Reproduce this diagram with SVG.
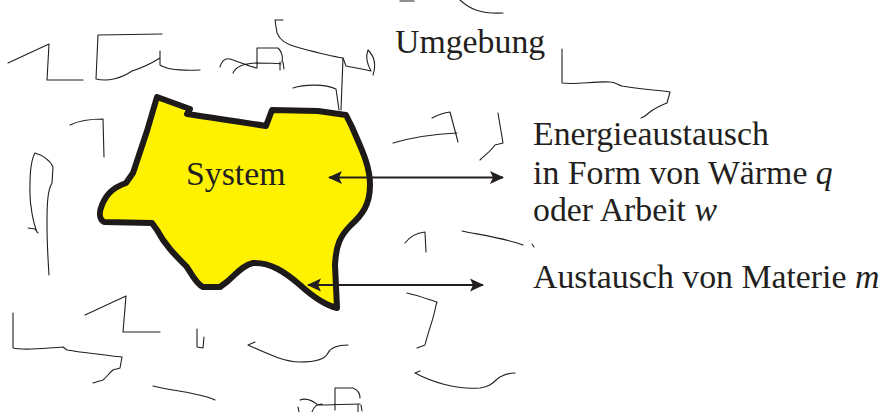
<svg xmlns="http://www.w3.org/2000/svg" width="885" height="412" viewBox="0 0 885 412">
  <style>
    .txt { font-family: "Liberation Serif", "Times New Roman", serif; font-size: 33.8px; fill: #231F20; }
    .it { font-style: italic; }
    .scribble { fill: none; stroke: #231F20; stroke-width: 1.1; stroke-linecap: round; stroke-linejoin: round; }
    .blob { fill: #FFF200; stroke: #1E1A1A; stroke-width: 6; stroke-linejoin: round; }
    .conn { fill: none; stroke: #231F20; stroke-width: 2; }
  </style>
  <defs>
    <marker id="head" viewBox="0 0 14 14" refX="13" refY="7" markerWidth="14" markerHeight="14" markerUnits="userSpaceOnUse" orient="auto-start-reverse">
      <path d="M0,0.5 L14,7 L0,13.5 L3,7 Z" fill="#231F20"/>
    </marker>
  </defs>

  <rect width="885" height="412" fill="#FFFFFF"/>

  <!-- surroundings: loose hand-drawn strokes -->
  <g id="umgebung-strokes" class="scribble">
    <path d="M8,63 L49,44 L47,80 L83,80"/>
    <path d="M162,34 L98,35 L96,79 C108,82 122,78 132,71 C145,67 152,63 160,58 L160,51 M160,58 L160,65 C166,69 180,71 200,70"/>
    <path d="M220,67 C222,60 226,58 230,59 C240,62 250,67 257,68 M233,73 C236,66 244,64 255,63 C265,63 275,63 281,64 M257,68 L257,48 L278,48 C282,52 283,57 282,62 M280,62 L280,70 M283,62 L284,69"/>
    <path d="M283,20 L275,20 L277,33 C280,40 285,44 300,48 C315,52 330,56 343,58 L346,66 C355,68 363,69 371,71 C366,62 366,55 368,50 C374,56 377,63 373,75"/>
    <path d="M343,58 L341,110"/>
    <path d="M293,88 C305,84 325,84 336,89 L339,110"/>
    <path d="M400,1 L414,1"/>
    <path d="M460,0 C470,9 480,14 503,13"/>
    <path d="M562,49 L562,83 C575,85 595,81 610,82 C615,82 618,85 622,86 C640,89 655,90 670,92 L667,103 C660,106 655,108 650,112 C646,115 645,117 641,118"/>
    <path d="M70,125 C78,121 90,119 103,119 L104,157"/>
    <path d="M37,232 C34,225 29,205 30,185 C30,170 31,160 35,153 C42,155 50,160 53,167 L52,183 C48,190 47,200 47,223 C47,245 48,260 49,275 M28,228 L35,229 L38,233"/>
    <path d="M432,118 C438,115 443,113 450,112 L458,142"/>
    <path d="M393,143 C410,138 435,134 457,133"/>
    <path d="M498,113 L503,143 L495,145 C490,152 485,155 480,160"/>
    <path d="M405,243 C410,236 417,233 425,232 L426,252"/>
    <path d="M462,231 C475,234 505,238 523,245"/>
    <path d="M13,313 L13,348 C25,351 45,348 63,347 L67,350 C85,353 105,355 122,357 L120,368 C118,369 115,369 113,370 C108,374 106,378 103,380 L93,383"/>
    <path d="M85,315 L126,296 L123,332 L160,332"/>
    <path d="M197,329 L197,347 L203,348 L204,337"/>
    <path d="M255,342 L248,345 C270,355 285,362 300,362 C315,362 325,360 328,353 C331,347 340,345 348,345"/>
    <path d="M153,386 C165,389 180,391 190,393 C200,395 210,397 215,400"/>
    <path d="M407,293 C420,296 430,300 437,302 L436,305 C434,318 428,332 425,345 L417,348"/>
    <path d="M420,371 L415,373 C430,381 455,390 480,388 C495,386 495,378 502,376 C506,374 510,373 515,373"/>
    <path d="M300,400 C305,398 312,400 318,405 C330,405 348,404 360,404 M312,412 C314,406 318,404 322,404 M335,410 L335,388 L353,388 C358,390 360,394 360,398 M358,404 L358,412 M361,405 L362,411"/>
    <path d="M298,407 L299,412"/>
    <path d="M532,244 L534,247"/>
  </g>

  <!-- the system: irregular yellow region -->
  <g id="system">
    <path class="blob" d="M157,97 L190,109 L187,114 C215,118 240,122 266,126 L272,110 L318,111 L346,115 L352,127 C361,148 370,165 370,185 C370,205 362,215 351,225 C340,236 336,245 335,265 L337,308 C325,305 312,296 300,285 C285,272 270,262 253,263 C243,265 236,274 228,281 L220,287 L203,287 C195,283 191,272 186,266 C175,255 165,245 157,230 L152,223 L104,222 C99,219 99,212 102,205 C106,195 112,188 126,183 L133,173 L147,131 Z"/>
    <text class="txt" x="186" y="185">System</text>
  </g>

  <g id="umgebung">
    <text class="txt" x="395" y="53">Umgebung</text>
  </g>

  <g id="energie">
    <text class="txt" x="533" y="145">Energieaustausch</text>
    <text class="txt" x="533" y="184">in Form von Wärme <tspan class="it">q</tspan></text>
    <text class="txt" x="533" y="221">oder Arbeit <tspan class="it">w</tspan></text>
  </g>

  <g id="materie">
    <text class="txt" x="533" y="288">Austausch von Materie <tspan class="it">m</tspan></text>
  </g>

  <!-- exchange arrows across the boundary -->
  <g id="connectors">
    <line class="conn" x1="329" y1="177.5" x2="503" y2="177.5" marker-start="url(#head)" marker-end="url(#head)"/>
    <line class="conn" x1="308" y1="285" x2="483" y2="285" marker-start="url(#head)" marker-end="url(#head)"/>
  </g>
</svg>
